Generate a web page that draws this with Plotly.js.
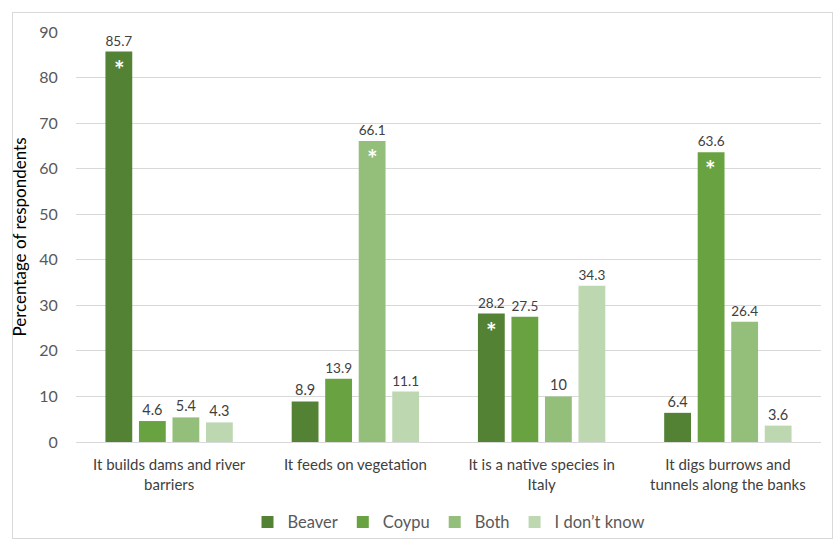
<!DOCTYPE html>
<html><head><meta charset="utf-8">
<script src="https://cdn.plot.ly/plotly-3.0.1.min.js"></script>
<style>body{margin:0;background:#fff}#frame{position:absolute;left:12px;top:12px;width:819px;height:525px;border:1px solid #d9d9d9}#chart{position:absolute;left:0;top:0;width:840px;height:544px}</style>
</head><body><div id="frame"></div><div id="chart"></div>
<script>
const categories = ["It builds dams and river<br>barriers", "It feeds on vegetation", "It is a native species in<br>Italy", "It digs burrows and<br>tunnels along the banks"];
const seriesNames = ["Beaver", "Coypu", "Both", "I don\u2019t know"];
const beaver = [85.7, 8.9, 28.2, 6.4];
const coypu = [4.6, 13.9, 27.5, 63.6];
const both = [5.4, 66.1, 10, 26.4];
const dontKnow = [4.3, 11.1, 34.3, 3.6];
// index of the series marked with an asterisk for each category
const starSeries = [0, 2, 0, 1];
const yTicks = [0, 10, 20, 30, 40, 50, 60, 70, 80, 90];

const FONT = "Lato, 'Open Sans', sans-serif";
const colors = ["#548235", "#69a341", "#93bf7b", "#bdd8b0"];
const values = [beaver, coypu, both, dontKnow];
const traces = values.map((v, i) => ({
  type: "bar", name: seriesNames[i], x: categories, y: v,
  marker: {color: colors[i]},
  text: v.map(String), textposition: "outside", cliponaxis: false,
  textfont: {family: FONT, size: 14.5, color: "#404040"},
  hoverinfo: "skip"
}));
const offsets = [-50, -17, 17, 50];
const annotations = starSeries.map((s, c) => ({
  x: categories[c], y: values[s][c], xref: "x", yref: "y",
  text: "<b>*</b>", showarrow: false, xshift: offsets[s], yshift: -17,
  font: {family: FONT, size: 25, color: "#ffffff"}
}));
const layout = {
  width: 840, height: 544,
  margin: {l: 76, r: 19, t: 32, b: 102},
  paper_bgcolor: "rgba(0,0,0,0)", plot_bgcolor: "rgba(0,0,0,0)",
  barmode: "group", bargap: 0.28, bargroupgap: 0.2,
  font: {family: FONT, color: "#595959"},
  xaxis: {tickfont: {size: 15, color: "#404040"}, showline: true, linecolor: "#d9d9d9",
    ticks: "outside", ticklen: 9, tickcolor: "rgba(0,0,0,0)", automargin: false},
  yaxis: {range: [0, 90], tickvals: yTicks, gridcolor: "#d9d9d9", zeroline: false,
    tickfont: {size: 16, color: "#595959"}, ticks: "outside", ticklen: 14, tickcolor: "rgba(0,0,0,0)",
    automargin: false,
    title: {text: "Percentage of respondents", font: {size: 17, color: "#000000"}, standoff: 8}},
  legend: {orientation: "h", x: 0.5, xanchor: "center", yref: "container", y: 0.04, yanchor: "middle",
    font: {size: 16.5, color: "#595959"}, itemwidth: 30, traceorder: "normal"},
  annotations: annotations,
  showlegend: true
};
Plotly.newPlot("chart", traces, layout, {displayModeBar: false, staticPlot: true});
</script></body></html>
